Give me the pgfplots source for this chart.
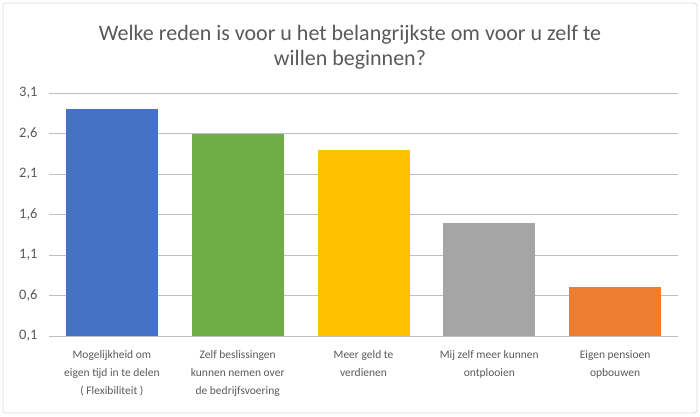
\documentclass[border=0pt]{standalone}
\usepackage{pgfplots}
\pgfplotsset{compat=1.18}
\usepackage{fontspec}
\setmainfont{Carlito}
\definecolor{txt}{HTML}{595959}
\definecolor{grid}{HTML}{D9D9D9}
\definecolor{cblue}{HTML}{4472C4}
\definecolor{cgreen}{HTML}{70AD47}
\definecolor{cgold}{HTML}{FFC000}
\definecolor{cgray}{HTML}{A5A5A5}
\definecolor{corange}{HTML}{ED7D31}
\begin{document}
\begin{tikzpicture}[x=1pt,y=1pt]
\path[use as bounding box] (0,0) rectangle (700,416);
\draw[grid, line width=0.8pt, rounded corners=3pt] (3,3) rectangle (697,413);
\node[txt, font=\fontsize{22}{25}\selectfont, align=center] at (350,369) {Welke reden is voor u het belangrijkste om voor u zelf te\\willen beginnen?};
\begin{axis}[
  at={(49pt,80pt)}, anchor=south west,
  scale only axis, width=629pt, height=243pt,
  ymin=0.1, ymax=3.1, ytick={0.1,0.6,...,3.1},
  xmin=-0.5, xmax=4.5, xtick={0,1,2,3,4},
  xticklabels={{Mogelijkheid om\\eigen tijd in te delen\\( Flexibiliteit )},{Zelf beslissingen\\kunnen nemen over\\de bedrijfsvoering},{Meer geld te\\verdienen},{Mij zelf meer kunnen\\ontplooien},{Eigen pensioen\\opbouwen}},
  xticklabel style={align=center, font=\fontsize{11.5}{18}\selectfont, text=txt, anchor=north, yshift=-11pt},
  yticklabel style={font=\fontsize{14.5}{16}\selectfont, text=txt, xshift=-8pt},
  /pgf/number format/assume math mode=true,
  /pgf/number format/.cd, fixed, fixed zerofill, precision=1, use comma, /pgfplots/.cd,
  axis line style={draw=none},
  major tick length=0pt, tick style={draw=none},
  xmajorgrids=false, ymajorgrids, grid style={grid, line width=0.8pt},
  ybar, bar width=92pt, bar shift=0pt,
  clip=false,
]
\addplot[fill=cblue, draw=none] coordinates {(0,2.9)};
\addplot[fill=cgreen, draw=none] coordinates {(1,2.6)};
\addplot[fill=cgold, draw=none] coordinates {(2,2.4)};
\addplot[fill=cgray, draw=none] coordinates {(3,1.5)};
\addplot[fill=corange, draw=none] coordinates {(4,0.7)};
\end{axis}
\end{tikzpicture}
\end{document}
